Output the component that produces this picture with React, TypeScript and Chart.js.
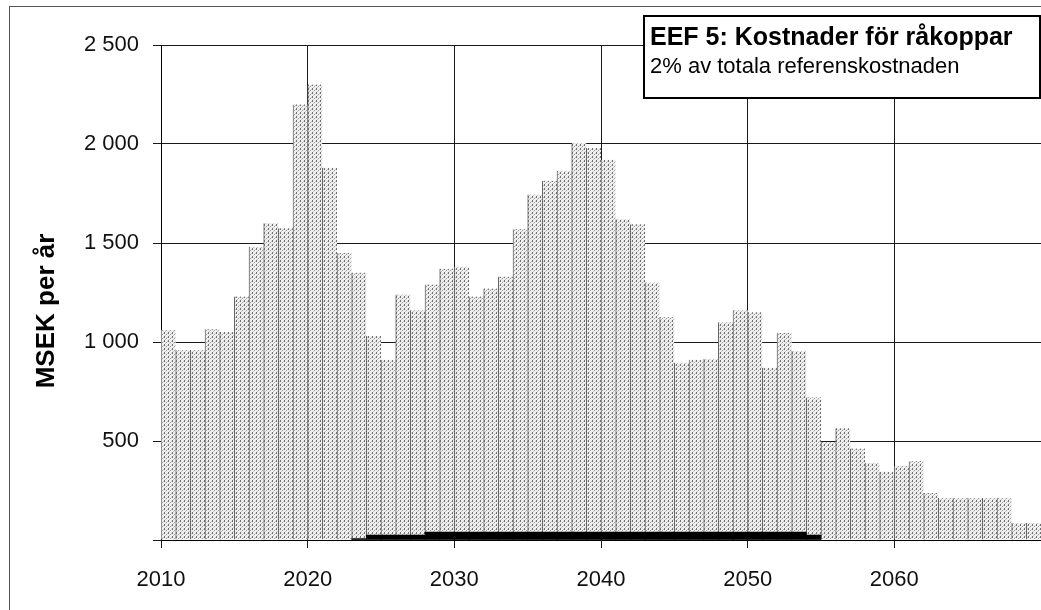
import React, { useEffect, useRef } from 'react';
import { Chart, registerables } from 'chart.js';

Chart.register(...registerables);

// ---- Data ----
const years = [
  2010, 2011, 2012, 2013, 2014, 2015, 2016, 2017, 2018, 2019,
  2020, 2021, 2022, 2023, 2024, 2025, 2026, 2027, 2028, 2029,
  2030, 2031, 2032, 2033, 2034, 2035, 2036, 2037, 2038, 2039,
  2040, 2041, 2042, 2043, 2044, 2045, 2046, 2047, 2048, 2049,
  2050, 2051, 2052, 2053, 2054, 2055, 2056, 2057, 2058, 2059,
  2060, 2061, 2062, 2063, 2064, 2065, 2066, 2067, 2068, 2069,
];

// total yearly cost (MSEK per år)
const totalCost = [
  1060, 960, 960, 1065, 1050, 1230, 1480, 1600, 1575, 2200,
  2300, 1880, 1450, 1350, 1030, 910, 1240, 1160, 1290, 1370,
  1380, 1230, 1270, 1330, 1570, 1745, 1815, 1865, 2005, 1980,
  1920, 1620, 1595, 1300, 1125, 895, 910, 915, 1100, 1160,
  1150, 870, 1045, 955, 720, 495, 565, 462, 390, 345,
  375, 398, 237, 212, 212, 212, 212, 212, 86, 86,
];

// small dark component at the bottom
const darkYears = [
  2023, 2024, 2025, 2026, 2027, 2028, 2029, 2030, 2031, 2032,
  2033, 2034, 2035, 2036, 2037, 2038, 2039, 2040, 2041, 2042,
  2043, 2044, 2045, 2046, 2047, 2048, 2049, 2050, 2051, 2052,
  2053, 2054,
];
const darkCost = [
  7, 25, 25, 25, 25, 40, 40, 40, 40, 40,
  40, 40, 40, 40, 40, 40, 40, 40, 40, 40,
  40, 40, 40, 40, 40, 40, 40, 40, 40, 40,
  40, 25,
];

const yTicks = [0, 500, 1000, 1500, 2000, 2500];
const xTicks = [2010, 2020, 2030, 2040, 2050, 2060];

const titleLine1 = 'EEF 5: Kostnader för råkoppar';
const titleLine2 = '2% av totala referenskostnaden';
const yTitle = 'MSEK per år';

const FONT = '"Liberation Sans", Arial, Helvetica, sans-serif';

function fmt(v: number): string {
  if (v >= 1000) {
    return Math.floor(v / 1000) + ' ' + String(v % 1000).padStart(3, '0');
  }
  return String(v);
}

function makePattern(): CanvasPattern | string {
  const c = document.createElement('canvas');
  c.width = 4;
  c.height = 4;
  const g = c.getContext('2d');
  if (!g) return '#d4d4d4';
  g.fillStyle = '#efefef';
  g.fillRect(0, 0, 4, 4);
  g.fillStyle = '#707070';
  g.fillRect(0, 0, 1, 2);
  g.fillStyle = '#a0a0a0';
  g.fillRect(2, 2, 1, 1);
  g.fillStyle = '#c4c4c4';
  g.fillRect(1, 3, 1, 1);
  g.fillRect(3, 1, 1, 1);
  const p = g.createPattern(c, 'repeat');
  return p || '#d4d4d4';
}

export default function App() {
  const ref = useRef<HTMLCanvasElement | null>(null);

  useEffect(() => {
    const canvas = ref.current;
    if (!canvas) return;
    const pattern = makePattern();

    const chart = new Chart(canvas, {
      type: 'bar',
      data: {
        datasets: [
          {
            label: 'Delkostnad',
            data: darkYears.map((y, i) => ({ x: y + 0.5, y: darkCost[i] })),
            backgroundColor: '#000000',
            borderWidth: 0,
            grouped: false,
            barPercentage: 1,
            categoryPercentage: 1,
            order: 0,
          },
          {
            label: 'Kostnader',
            data: years.map((y, i) => ({ x: y + 0.5, y: totalCost[i] })),
            backgroundColor: pattern as any,
            borderColor: '#666666',
            borderWidth: { left: 1, right: 0, top: 0, bottom: 0 },
            borderSkipped: false,
            grouped: false,
            barPercentage: 1,
            categoryPercentage: 1,
            order: 1,
          },
        ],
      },
      options: {
        animation: false,
        responsive: false,
        maintainAspectRatio: false,
        devicePixelRatio: 1,
        layout: { padding: { top: 45, left: 0, right: 0, bottom: 0 } },
        plugins: {
          legend: { display: false },
          tooltip: { enabled: false },
          title: { display: false },
        },
        scales: {
          x: {
            type: 'linear',
            min: 2010,
            max: 2070,
            offset: false,
            afterBuildTicks: (scale: any) => {
              scale.ticks = [...xTicks, 2070].map((v) => ({ value: v }));
            },
            afterFit: (scale: any) => {
              scale.height = 70;
              scale.paddingRight = 0;
              scale.paddingLeft = 0;
            },
            ticks: {
              callback: (v: any) => (xTicks.includes(Number(v)) ? String(v) : ''),
              font: { family: FONT, size: 22 },
              color: '#111111',
              padding: 19,
              maxRotation: 0,
              autoSkip: false,
            },
            grid: {
              offset: false,
              color: '#1a1a1a',
              lineWidth: 1,
              tickLength: 8,
              drawTicks: true,
            },
            border: { display: true, color: '#000000', width: 1 },
          },
          y: {
            type: 'linear',
            min: 0,
            max: 2500,
            afterBuildTicks: (scale: any) => {
              scale.ticks = yTicks.map((v) => ({ value: v }));
            },
            afterFit: (scale: any) => {
              scale.width = 161;
            },
            ticks: {
              callback: (v: any) => (Number(v) === 0 ? '' : fmt(Number(v))),
              font: { family: FONT, size: 22 },
              color: '#111111',
              padding: 14,
            },
            grid: {
              offset: false,
              color: '#1a1a1a',
              lineWidth: 1,
              tickLength: 8,
              drawTicks: true,
            },
            border: { display: true, color: '#000000', width: 1 },
          },
        },
      },
    } as any);

    return () => {
      chart.destroy();
    };
  }, []);

  return (
    <div style={{ position: 'fixed', left: 0, top: 0, width: 1041, height: 610, background: '#ffffff', overflow: 'hidden' }}>
      <canvas ref={ref} width={1041} height={610} style={{ position: 'absolute', left: 0, top: 0, width: 1041, height: 610, display: 'block' }} />
      {/* outer frame */}
      <div style={{ position: 'absolute', left: 9, top: 6, width: 1040, height: 620, borderLeft: '1px solid #555', borderTop: '1px solid #555', pointerEvents: 'none' }} />
      {/* y-axis title */}
      <div
        style={{
          position: 'absolute',
          left: 45,
          top: 311,
          transform: 'translate(-50%, -50%) rotate(-90deg)',
          whiteSpace: 'nowrap',
          fontFamily: FONT,
          fontWeight: 'bold',
          fontSize: 26,
          lineHeight: '26px',
          color: '#000',
        }}
      >
        {yTitle}
      </div>
      {/* title box */}
      <div
        style={{
          position: 'absolute',
          left: 643,
          top: 15,
          width: 394,
          height: 80,
          border: '2px solid #000',
          background: '#fff',
          fontFamily: FONT,
          color: '#000',
        }}
      >
        <div style={{ position: 'absolute', left: 5, top: 7, fontSize: 25, lineHeight: '25px', fontWeight: 'bold', whiteSpace: 'nowrap' }}>
          {titleLine1}
        </div>
        <div style={{ position: 'absolute', left: 5, top: 38, fontSize: 22, lineHeight: '22px', whiteSpace: 'nowrap' }}>
          {titleLine2}
        </div>
      </div>
    </div>
  );
}
